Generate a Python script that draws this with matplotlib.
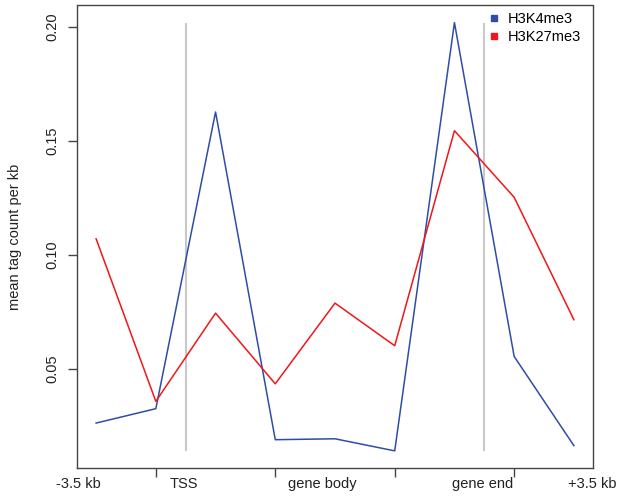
import matplotlib
matplotlib.use("Agg")
import matplotlib.pyplot as plt
from matplotlib.lines import Line2D

# data
positions = [1, 2, 3, 4, 5, 6, 7, 8, 9]
h3k4me3 = [0.0262, 0.0325, 0.1626, 0.0189, 0.0193, 0.0140, 0.2018, 0.0554, 0.0163]
h3k27me3 = [0.1070, 0.0357, 0.0744, 0.0434, 0.0788, 0.0601, 0.1544, 0.1252, 0.0715]
series_names = ["H3K4me3", "H3K27me3"]
x_label_pos = [0.71, 2.47, 4.78, 7.47, 9.30]
x_labels = ["-3.5 kb", "TSS", "gene body", "gene end", "+3.5 kb"]
minor_tick_pos = [2, 4, 6, 8]
marker_lines = [2.5, 7.5]
y_ticks = [0.05, 0.10, 0.15, 0.20]
y_ticklabels = ["0.05", "0.10", "0.15", "0.20"]

plt.rcParams['font.family'] = ['Liberation Sans', 'DejaVu Sans']

blue = "#2E4DA5"
red = "#F0161A"
gray = "#C8C8C8"
axcol = "#444444"

fig = plt.figure(figsize=(6.22, 4.97), dpi=100)
ax = fig.add_axes([77/622, 29/497, (593-77)/622, (468-5.5)/497])

ymin = min(min(h3k4me3), min(h3k27me3))
ymax = max(max(h3k4me3), max(h3k27me3))
for xv in marker_lines:
    ax.plot([xv, xv], [ymin, ymax], color=gray, lw=1.5, solid_capstyle='butt', zorder=1)

ax.plot(positions, h3k4me3, color=blue, lw=1.1, zorder=3)
ax.plot(positions, h3k27me3, color=red, lw=1.1, zorder=3)

ax.set_xlim(0.68, 9.32)
rng = ymax - ymin
ax.set_ylim(ymin - 0.04*rng, ymax + 0.04*rng)

ax.set_xticks(x_label_pos)
ax.set_xticklabels(x_labels, fontsize=10.5, color="#222222")
ax.tick_params(axis='x', which='major', length=0, pad=6.5)
ax.set_xticks(minor_tick_pos, minor=True)
ax.tick_params(axis='x', which='minor', length=6.5, width=1.0, color=axcol)

ax.set_yticks(y_ticks)
ax.set_yticklabels(y_ticklabels, fontsize=10.5, color="#222222", rotation=90, va='center')
ax.tick_params(axis='y', length=6.5, width=1.0, color=axcol, pad=6)

for s in ax.spines.values():
    s.set_color(axcol)
    s.set_linewidth(1.0)

fig.text(15/622, 1 - 237/497, "mean tag count per kb", rotation=90, ha='center', va='center',
         fontsize=10.5, color="#222222")

handles = [Line2D([], [], marker='s', ls='none', color=blue, markersize=4.3),
           Line2D([], [], marker='s', ls='none', color=red, markersize=4.3)]
ax.legend(handles, series_names, loc='upper left', bbox_to_anchor=(490/622, 1 - 12/497),
          bbox_transform=fig.transFigure, frameon=False, fontsize=10.5,
          handlelength=0.6, handletextpad=0.6, labelspacing=0.25, borderpad=0, borderaxespad=0)

fig.savefig("out.png", dpi=100)
